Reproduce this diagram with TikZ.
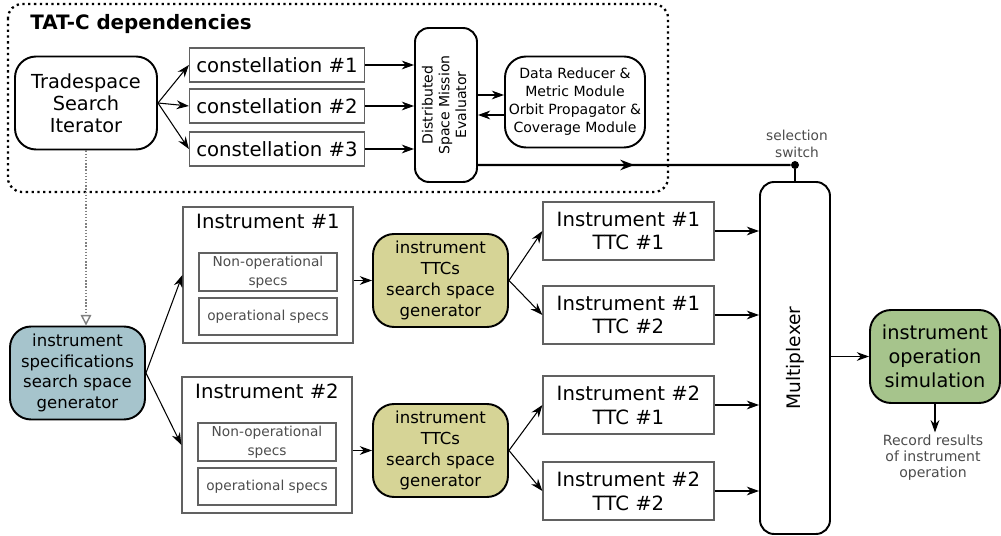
\documentclass[tikz,border=0pt]{standalone}
\usepackage{fontspec}
\setmainfont{DejaVu Sans}
\usepackage{tikz}
\usetikzlibrary{calc}
\usetikzlibrary{arrows.meta}
\usetikzlibrary{decorations.markings}
\usepackage{xcolor}
\definecolor{specblue}{rgb}{0.65,0.77,0.80}
\definecolor{ttcolive}{rgb}{0.84,0.83,0.59}
\definecolor{simgreen}{rgb}{0.65,0.77,0.55}
\definecolor{boxgray}{rgb}{0.38,0.38,0.38}
\definecolor{textgray}{rgb}{0.3,0.3,0.3}
\tikzset{
  plainbox/.style={draw=boxgray, line width=0.7pt, align=center, inner sep=1pt},
  roundbox/.style={draw=black, line width=1.1pt, rounded corners=12pt, align=center, inner sep=1pt},
  bigbox/.style={plainbox, font=\fontsize{11.2}{13.5}\selectfont},
  specbox/.style={plainbox, text=textgray, font=\fontsize{7.8}{10.5}\selectfont,
    minimum width=2.76cm},
  genbox/.style={roundbox, minimum width=2.7cm, minimum height=1.86cm,
    font=\fontsize{9.4}{11.8}\selectfont},
  ttcbox/.style={bigbox, minimum width=3.42cm, minimum height=1.16cm},
  arr/.style={-{Stealth[length=7pt,width=5pt]}, line width=0.6pt},
  smalltext/.style={text=textgray, align=center, font=\fontsize{7.8}{9.6}\selectfont, inner sep=1pt},
}

\begin{document}
\begin{tikzpicture}
\useasboundingbox (0,0) rectangle (20.02,-10.72);
\coordinate (C) at (0, 0);

%%%%%%%%%%%%%%%%%%%%%%%%%%%%%%%%%%%%%%%%%%%%%%%%%%%%%%%%%%%%%% TAT-C dependencies
\draw[dotted, line width=1.3pt, rounded corners=8pt] ($(C)+(0.16,-0.08)$) rectangle ($(C)+(13.36,-3.84)$);
\node[anchor=west, font=\bfseries\fontsize{11.3}{13}\selectfont, inner sep=0pt] (title) at ($(C)+(0.6,-0.48)$) {TAT-C dependencies};

\node[roundbox, minimum width=2.84cm, minimum height=1.86cm, font=\fontsize{11}{12.5}\selectfont] (tsi) at ($(C)+(1.72,-2.06)$) {Tradespace\\Search\\Iterator};

\node[bigbox, minimum width=3.5cm, minimum height=0.68cm] (c1) at ($(C)+(5.54,-1.3)$) {constellation \#1};
\node[bigbox, minimum width=3.5cm, minimum height=0.68cm] (c2) at ($(C)+(5.54,-2.12)$) {constellation \#2};
\node[bigbox, minimum width=3.5cm, minimum height=0.68cm] (c3) at ($(C)+(5.54,-2.98)$) {constellation \#3};

\node[roundbox, rounded corners=8pt, minimum width=1.24cm, minimum height=3.08cm, inner sep=0pt,
  font=\fontsize{8}{9.6}\selectfont] (dsme) at ($(C)+(8.92,-2.1)$)
  {\rotatebox{90}{\begin{tabular}{@{}c@{}}Distributed\\Space Mission\\Evaluator\end{tabular}}};

\node[roundbox, minimum width=2.8cm, minimum height=1.82cm, font=\fontsize{8}{10.2}\selectfont] (drm) at ($(C)+(11.5,-2.04)$)
  {Data Reducer \&\\Metric Module\\Orbit Propagator \&\\Coverage Module};

\foreach \c in {tsi} {
  \draw[arr] (\c.east) -- (c1.west);
  \draw[arr] (\c.east) -- (c2.west);
  \draw[arr] (\c.east) -- (c3.west);
}
\foreach \c in {c1,c2,c3}
  \draw[arr] (\c.east) -- (\c.east -| dsme.west);

\draw[arr] ([yshift=0.14cm]drm.west -| dsme.east) -- ([yshift=0.14cm]drm.west);
\draw[arr] ([yshift=-0.26cm]drm.west) -- ([yshift=-0.26cm]drm.west -| dsme.east);

%%%%%%%%%%%%%%%%%%%%%%%%%%%%%%%%%%%%%%%%%%%%%%%%%%%%%%%%%%%%%% selection switch
\node[circle, fill=black, inner sep=0pt, minimum size=0.16cm] (sw) at ($(C)+(15.9,-3.3)$) {};
\node[smalltext] (swlabel) at ($(C)+(15.94,-2.87)$) {selection\\switch};

\draw[line width=1.2pt, postaction={decorate, decoration={
    markings,
    mark=at position 0.5 with {\arrow{Stealth[length=8pt,width=6pt]}}}}] ([yshift=-1.2cm]dsme.east) -- (sw);

%%%%%%%%%%%%%%%%%%%%%%%%%%%%%%%%%%%%%%%%%%%%%%%%%%%%%%%%%%%%%% Instruments
\node[genbox, fill=specblue] (isg) at ($(C)+(1.55,-7.46)$) {instrument\\specifications\\search space\\generator};

\draw[densely dotted, gray, line width=0.8pt, -{Triangle[open,length=6pt,width=6pt]}] (tsi.south) -- (tsi.south |- isg.north);

\node[plainbox, minimum width=3.4cm, minimum height=2.72cm] (ins1) at ($(C)+(5.36,-5.5)$) {};
\node[below, font=\fontsize{11.2}{13.5}\selectfont, inner sep=4pt] (ins1t) at (ins1.north) {Instrument \#1};
\node[specbox, minimum height=0.76cm] (no1) at ($(C)+(5.36,-5.44)$) {Non-operational\\specs};
\node[specbox, minimum height=0.74cm] (op1) at ($(C)+(5.36,-6.33)$) {operational specs};

\node[plainbox, minimum width=3.4cm, minimum height=2.72cm] (ins2) at ($(C)+(5.34,-8.9)$) {};
\node[below, font=\fontsize{11.2}{13.5}\selectfont, inner sep=4pt] (ins2t) at (ins2.north) {Instrument \#2};
\node[specbox, minimum height=0.76cm] (no2) at ($(C)+(5.34,-8.84)$) {Non-operational\\specs};
\node[specbox, minimum height=0.74cm] (op2) at ($(C)+(5.34,-9.73)$) {operational specs};

\draw[arr] (isg.east) -- (ins1.west);
\draw[arr] (isg.east) -- (ins2.west);

\node[genbox, fill=ttcolive] (tg1) at ($(C)+(8.81,-5.61)$) {instrument\\TTCs\\search space\\generator};
\node[genbox, fill=ttcolive] (tg2) at ($(C)+(8.81,-9.01)$) {instrument\\TTCs\\search space\\generator};

\draw[arr] (tg1.west -| ins1.east) -- (tg1.west);
\draw[arr] (tg2.west -| ins2.east) -- (tg2.west);

%%%%%%%%%%%%%%%%%%%%%%%%%%%%%%%%%%%%%%%%%%%%%%%%%%%%%%%%%%%%%% TTCs
\node[ttcbox] (t11) at ($(C)+(12.57,-4.62)$) {Instrument \#1\\TTC \#1};
\node[ttcbox] (t12) at ($(C)+(12.57,-6.3)$) {Instrument \#1\\TTC \#2};
\node[ttcbox] (t21) at ($(C)+(12.57,-8.1)$) {Instrument \#2\\TTC \#1};
\node[ttcbox] (t22) at ($(C)+(12.57,-9.82)$) {Instrument \#2\\TTC \#2};

\draw[arr] (tg1.east) -- (t11.west);
\draw[arr] (tg1.east) -- (t12.west);
\draw[arr] (tg2.east) -- (t21.west);
\draw[arr] (tg2.east) -- (t22.west);

%%%%%%%%%%%%%%%%%%%%%%%%%%%%%%%%%%%%%%%%%%%%%%%%%%%%%%%%%%%%%% Multiplexer
\node[roundbox, rounded corners=8pt, minimum width=1.4cm, minimum height=7.04cm, inner sep=0pt,
  font=\fontsize{10.6}{12}\selectfont] (mux) at ($(C)+(15.9,-7.16)$) {\rotatebox{90}{Multiplexer}};

\draw[line width=1pt] (sw) -- (sw |- mux.north);

\foreach \t in {t11,t12,t21,t22}
  \draw[arr] (\t.east) -- (\t.east -| mux.west);

\node[genbox, fill=simgreen, minimum width=2.6cm, font=\fontsize{11}{13.5}\selectfont] (ops) at ($(C)+(18.7,-7.13)$) {instrument\\operation\\simulation};

\draw[arr] (ops.west -| mux.east) -- (ops.west);

\node[smalltext, font=\fontsize{8}{9.2}\selectfont] (rec) at ($(C)+(18.66,-9.15)$) {Record results\\of instrument\\operation};
\draw[arr] (ops.south) -- (ops.south |- rec.north);

\end{tikzpicture}
\end{document}
